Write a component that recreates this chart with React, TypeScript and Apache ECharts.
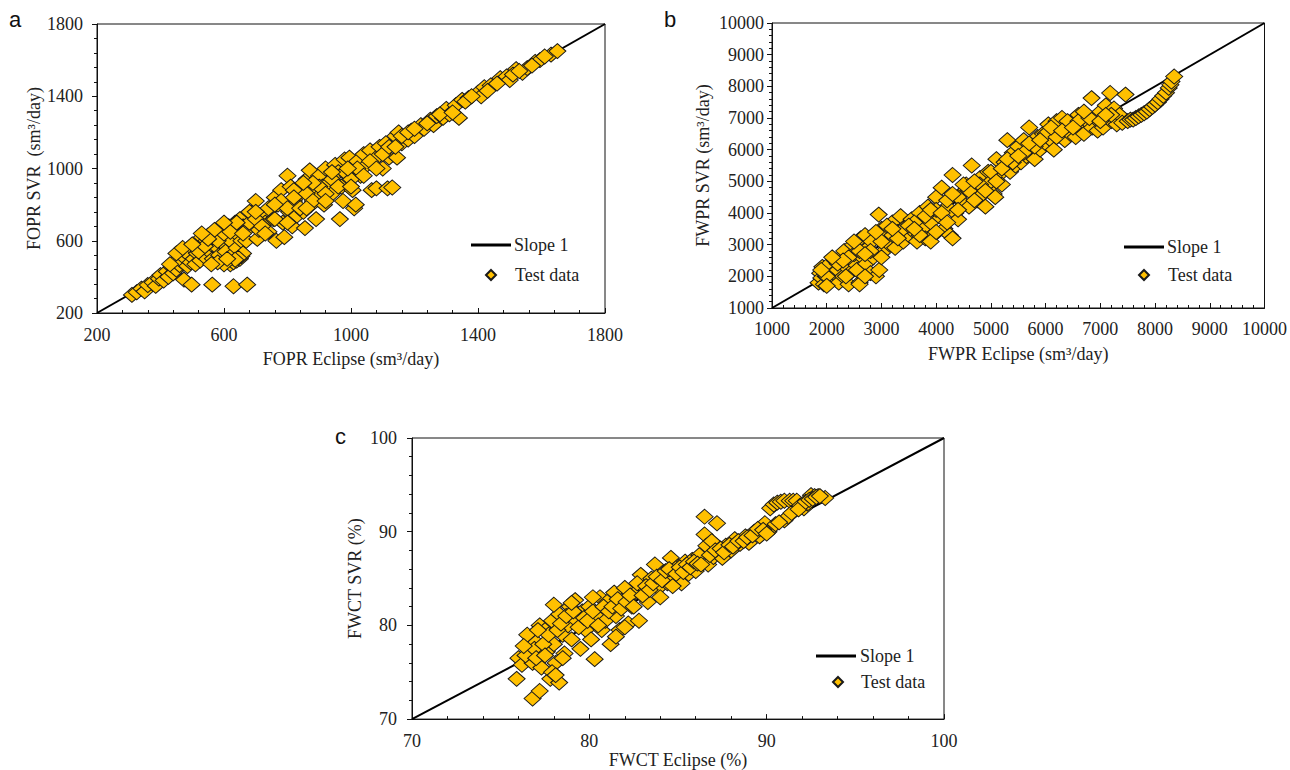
import React, { useEffect, useRef } from "react";
import * as echarts from "echarts";

// ---------- Panel a : FOPR ----------
const foprEclipse = [
  310, 325, 340, 350, 360, 375, 385, 395, 400, 410, 420, 425, 435, 440, 445, 450, 455, 460, 465, 470,
  475, 480, 485, 490, 495, 500, 505, 510, 515, 520, 525, 530, 535, 540, 545, 550, 555, 560, 565, 570,
  575, 580, 585, 590, 595, 600, 605, 610, 615, 620, 625, 630, 635, 640, 645, 650, 655, 660, 665, 670,
  474, 498, 563, 630, 673,
  620, 630, 640, 650, 655, 660, 645, 635, 600, 580, 560, 610,
  680, 690, 700, 705, 710, 720, 730, 740, 750, 755, 760, 765, 770, 780, 785, 790, 800, 805, 810, 815,
  820, 830, 840, 845, 850, 855, 860, 870, 875, 880, 890, 895, 900, 910, 915, 920, 930, 940, 950, 960,
  965, 970, 975, 980, 990, 995, 1000, 1005, 1010, 1015, 1020, 1030, 1040, 1050, 1060, 1065, 1080, 1080,
  1090, 1100, 1110, 1115, 1130, 1120, 1140, 1145, 1150, 1160, 1180, 1190, 1200, 1220, 1230, 1250, 1260,
  1270, 1290, 1300, 1310, 1330, 1340, 1350, 1370, 1400, 1410, 1420, 1440, 1470, 1490, 1500, 1520, 1540,
  1555, 1580, 1595, 1630, 1650,
  520, 540, 560, 580, 600, 620, 640, 660, 680, 700, 720, 740, 760, 780, 800, 820, 840, 860, 880, 900,
  920, 940, 960, 980, 1000, 1020, 1040, 1060, 1080, 1100, 1120, 1140, 1160, 1180, 1200, 1240, 1280, 1320,
  1360, 1380, 1430, 1460, 1510, 1530, 1570, 1610, 700, 760, 820, 880, 940, 990, 730, 800, 860, 920,
  1000, 850, 600, 570, 550, 450, 470, 430, 500, 530,
];
const foprSvr = [
  300, 315, 335, 320, 355, 370, 350, 390, 410, 380, 430, 400, 455, 420, 480, 440, 500, 465, 520, 480,
  540, 500, 460, 520, 480, 560, 500, 470, 530, 590, 490, 620, 560, 510, 600, 630, 540, 580, 500, 610,
  640, 560, 520, 600, 650, 580, 540, 620, 680, 600, 520, 660, 700, 560, 630, 720, 600, 680, 650, 600,
  385, 357, 357, 348, 357,
  470, 480, 490, 500, 515, 530, 505, 495, 470, 480, 470, 500,
  700, 760, 820, 610, 660, 740, 700, 650, 780, 720, 840, 600, 800, 880, 700, 620, 960, 760, 900, 680,
  820, 740, 860, 900, 760, 670, 940, 990, 800, 880, 720, 840, 960, 900, 800, 1000, 920, 860, 1020, 980,
  720, 900, 820, 1050, 960, 1060, 1000, 880, 780, 800, 1040, 960, 1080, 1020, 1100, 880, 1060, 890,
  1120, 1000, 1140, 890, 895, 1060, 1180, 1060, 1200, 1140, 1160, 1210, 1180, 1240, 1220, 1270, 1240,
  1290, 1280, 1330, 1300, 1350, 1280, 1380, 1390, 1420, 1400, 1450, 1460, 1500, 1510, 1490, 1550, 1530,
  1556, 1590, 1600, 1630, 1650,
  540, 570, 620, 600, 640, 650, 700, 640, 760, 720, 680, 780, 720, 820, 780, 880, 780, 860, 820, 900,
  860, 940, 900, 980, 940, 1000, 960, 1040, 1000, 1080, 1120, 1120, 1180, 1200, 1220, 1250, 1300, 1310,
  1370, 1400, 1430, 1470, 1520, 1540, 1570, 1620, 760, 800, 840, 920, 980, 1000, 640, 700, 780, 820,
  900, 920, 700, 660, 610, 530, 560, 470, 580, 640,
];

// ---------- Panel b : FWPR ----------
const fwprEclipse = [
  1850, 1880, 1900, 1920, 1950, 1980, 2000, 2050, 2100, 2120, 2150, 2200, 2220, 2250, 2300, 2320, 2350,
  2400, 2420, 2450, 2480, 2500, 2550, 2600, 2620, 2650, 2700, 2720, 2750, 2800, 2820, 2850, 2900, 2950,
  2960, 3000, 3050, 3100, 3150, 3200, 3250, 3300, 3350, 3400, 3450, 3500, 3550, 3600, 3650, 3700, 3750,
  3800, 3850, 3900, 3950, 4000, 4050, 4100, 4150, 4200, 4250, 4300, 4350, 4400, 4450, 4500, 4550, 4600,
  4650, 4700, 4750, 4800, 4850, 4900, 4950, 5000, 5050, 5100, 5150, 5200, 5250, 5300, 5350, 5400, 5450,
  5500, 5550, 5600, 5650, 5700, 5750, 5800, 5850, 5900, 5950, 6000, 6050, 6100, 6150, 6200, 6250, 6300,
  6350, 6400, 6450, 6500, 6550, 6600, 6650, 6700, 6750, 6840, 6850, 6900, 6950, 7000, 7050, 7100, 7180,
  7200, 7250, 7300, 7350, 7400, 7460, 7500, 7550, 7600, 7650, 7700, 7750, 7800, 7850, 7900, 7950, 8000,
  8050, 8100, 8150, 8200, 8250, 8280, 8300, 8350, 5080, 4300, 3900, 2600,
  2000, 2200, 2400, 2600, 2800, 3000, 3200, 3400, 3600, 3800, 4000, 4200, 4400, 4600, 4800, 5000, 5200,
  5400, 5600, 5800, 6000, 6200, 6400, 6600, 6800, 7000, 7200, 2300, 2700, 3100, 3300, 3500, 3700, 3900,
  4100, 4300, 4500, 4700, 4900, 5100, 5300, 5500, 5700, 5900, 6100, 6300, 6500, 6700, 7100, 2100, 2500,
  3000, 3200, 3600, 4000, 4200, 4400, 4700, 2900, 2700, 1900, 2000, 2350,
];
const fwprSvr = [
  1800, 2100, 1950, 2300, 1750, 2000, 2200, 2400, 1900, 2100, 2500, 2200, 1800, 2600, 2000, 2800, 2300,
  1750, 2100, 2500, 3000, 2700, 2200, 1800, 3200, 2600, 3300, 2400, 2900, 2100, 3100, 2600, 2000, 3950,
  2200, 3500, 2800, 3300, 3000, 3700, 2900, 3400, 3900, 3100, 3600, 3300, 3800, 3400, 3100, 4000, 3500,
  3200, 4200, 3700, 3300, 4500, 3900, 4800, 3500, 4200, 3300, 5200, 4000, 3800, 4600, 4300, 4900, 4200,
  5500, 4700, 4400, 5100, 4600, 4200, 5300, 5000, 4600, 5700, 5200, 4900, 5600, 6300, 5300, 5900, 5500,
  6100, 5600, 6300, 5800, 6700, 6100, 5700, 6400, 6000, 6500, 6200, 6800, 6300, 6000, 6900, 6500, 7000,
  6300, 6700, 6500, 6900, 6400, 7100, 6700, 6500, 6900, 7630, 6700, 7000, 6600, 7200, 6700, 7400, 7790,
  6900, 7300, 6800, 7100, 6850, 7740, 6900, 6950, 6950, 7000, 7050, 7100, 7150, 7200, 7280, 7350, 7420,
  7500, 7600, 7700, 7800, 7950, 8050, 8150, 8310, 4500, 3200, 3100, 1750,
  2000, 2400, 2600, 2800, 2800, 3100, 3300, 3500, 3700, 3900, 4100, 4400, 4500, 4700, 4900, 5300, 5400,
  5600, 5900, 6100, 6500, 6400, 6900, 6900, 7000, 6900, 7100, 2500, 2700, 3600, 3200, 3600, 3300, 4100,
  4000, 4600, 4900, 5000, 4700, 5000, 5700, 5800, 6200, 6300, 6700, 6600, 6700, 7200, 7100, 2600, 3100,
  2600, 3500, 3500, 3400, 3700, 4100, 4400, 3400, 2000, 2200, 1700, 2000,
];

// ---------- Panel c : FWCT ----------
const fwctEclipse = [
  75.9, 76.8, 77.2, 76.0, 76.2, 76.5, 76.6, 76.8, 77.0, 77.2, 77.3, 77.5, 77.6, 77.8, 77.9, 78.0, 78.1,
  78.3, 78.3, 78.5, 78.6, 78.8, 78.9, 79.0, 79.2, 79.3, 79.5, 79.6, 79.8, 80.0, 80.1, 80.3, 80.4, 80.6,
  80.7, 80.9, 81.0, 81.2, 81.4, 81.5, 81.7, 81.9, 82.0, 82.2, 82.4, 82.6, 82.8, 82.9, 83.1, 83.3, 83.5,
  83.7, 83.9, 84.0, 84.2, 84.4, 84.6, 84.8, 85.0, 85.2, 85.4, 85.6, 85.8, 86.0, 86.2, 86.5, 86.5, 86.6,
  86.7, 86.9, 87.2, 87.0, 87.3, 87.5, 87.7, 88.0, 88.2, 88.5, 88.8, 89.0, 89.3, 89.6, 89.9, 90.1, 90.2,
  90.4, 90.6, 90.8, 91.0, 91.0, 91.2, 91.3, 91.5, 91.7, 91.9, 92.1, 92.3, 92.5, 92.7, 92.9, 93.3,
  76.4, 76.9, 77.4, 77.7, 78.2, 78.4, 78.7, 79.1, 79.4, 79.7, 79.9, 80.2, 80.5, 80.8, 81.1, 81.3, 81.6,
  81.8, 82.1, 82.3, 82.5, 82.7, 83.0, 83.2, 83.4, 83.6, 83.8, 84.1, 84.3, 84.5, 84.7, 84.9, 85.1, 85.3,
  85.5, 85.7, 85.9, 86.1, 86.3, 86.8, 87.1, 87.4, 87.6, 87.9, 88.1, 88.4, 88.7, 88.9, 89.2, 89.5, 89.8,
  90.0, 90.5, 90.7, 91.4, 91.8, 92.2, 92.4, 92.6, 92.8, 93.0, 78.0, 79.0, 80.2, 77.0, 77.9, 78.1, 81.5,
  82.0, 76.3, 77.1, 77.5, 78.5,
];
const fwctSvr = [
  74.3, 72.2, 73.0, 76.5, 75.8, 79.0, 77.0, 76.0, 78.2, 80.0, 75.5, 79.5, 77.2, 74.3, 80.5, 78.0, 76.0,
  73.9, 81.2, 79.0, 77.0, 80.0, 82.0, 78.5, 82.7, 80.5, 77.5, 81.5, 79.5, 82.0, 78.5, 76.4, 81.0, 83.0,
  79.5, 80.5, 82.5, 78.0, 83.5, 81.0, 79.5, 82.5, 84.0, 80.2, 82.0, 83.5, 80.5, 85.4, 84.0, 82.5, 85.0,
  86.5, 84.0, 83.0, 85.5, 84.5, 87.2, 85.0, 86.3, 84.5, 86.8, 85.5, 87.0, 85.8, 87.5, 91.6, 89.7, 88.5,
  86.5, 89.0, 90.9, 87.3, 88.0, 87.2, 88.5, 88.0, 89.2, 88.7, 89.5, 88.8, 90.0, 89.5, 90.9, 90.0, 92.5,
  92.9, 93.1, 93.2, 91.2, 93.3, 91.6, 93.3, 93.3, 93.3, 92.8, 92.5, 93.0, 93.9, 93.8, 93.8, 93.6,
  76.8, 77.5, 78.0, 79.0, 79.5, 80.2, 81.0, 81.5, 79.8, 80.8, 80.5, 81.5, 80.0, 82.0, 81.5, 82.0, 82.8,
  81.8, 82.5, 83.2, 82.0, 84.5, 83.2, 84.2, 83.8, 84.5, 85.2, 84.8, 85.8, 86.0, 84.2, 85.5, 86.2, 85.7,
  86.5, 86.2, 86.8, 86.6, 86.5, 87.5, 88.0, 88.2, 87.8, 88.6, 88.4, 89.0, 89.0, 89.4, 89.6, 90.3, 90.2,
  89.8, 90.8, 91.0, 92.0, 92.4, 93.2, 93.4, 93.5, 93.7, 93.8, 82.2, 82.4, 83.0, 76.5, 75.0, 74.7, 78.8,
  79.8, 77.8, 79.5, 76.8, 76.5,
];

// tick values (panel a uses explicit tick lists)
const aMajorTicks = [200, 600, 1000, 1400, 1800];
const aMinorTicks = [280, 360, 440, 520, 680, 760, 840, 920, 1080, 1160, 1240, 1320, 1480, 1560, 1640, 1720];

const SERIF = "'Liberation Serif', 'Times New Roman', serif";
const TXT = "#222";

function zip(xs: number[], ys: number[]) {
  return xs.map((x, i) => [x, ys[i]]);
}

const plain = (v: number) => String(v);

function labelStyle(margin: number, custom?: number[]) {
  const s: any = { fontFamily: SERIF, fontSize: 18, color: TXT, margin, formatter: plain };
  if (custom) s.customValues = custom;
  return s;
}

function mainAxis(
  gridIndex: number,
  min: number,
  max: number,
  name: string,
  isX: boolean,
  nameGap: number,
  labelMargin: number,
  extra: any
) {
  return {
    type: "value",
    gridIndex,
    min,
    max,
    position: isX ? "bottom" : "left",
    name,
    nameLocation: "middle",
    nameGap,
    nameTextStyle: { fontFamily: SERIF, fontSize: 18, color: TXT },
    axisLine: { show: true, onZero: false, lineStyle: { color: "#111", width: 1 } },
    axisTick: { show: true, inside: isX, length: 5, lineStyle: { color: "#111" } },
    axisLabel: labelStyle(labelMargin),
    splitLine: { show: false },
    ...extra,
  };
}

function legends(lineLeft: number, lineTop: number, diaLeft: number, diaTop: number, textLeft: number) {
  return [
    {
      data: [{ name: "Slope 1", icon: "rect", itemStyle: { color: "#000" } }],
      left: lineLeft,
      top: lineTop,
      itemWidth: 40,
      itemHeight: 3,
      padding: 0,
      selectedMode: false,
      textStyle: { fontFamily: SERIF, fontSize: 18, color: TXT, padding: [0, 0, 0, textLeft - (lineLeft + 45)] },
    },
    {
      data: [{ name: "Test data", icon: "diamond" }],
      left: diaLeft,
      top: diaTop,
      itemWidth: 10,
      itemHeight: 10,
      padding: 0,
      selectedMode: false,
      textStyle: { fontFamily: SERIF, fontSize: 18, color: TXT, padding: [0, 0, 0, textLeft - (diaLeft + 15)] },
    },
  ];
}

function panelSeries(xIdx: number, yIdx: number, lo: number, hi: number, xs: number[], ys: number[]) {
  return [
    {
      name: "Slope 1",
      type: "line",
      xAxisIndex: xIdx,
      yAxisIndex: yIdx,
      data: [
        [lo, lo],
        [hi, hi],
      ],
      symbol: "none",
      silent: true,
      lineStyle: { color: "#000", width: 2 },
      itemStyle: { color: "#000" },
      z: 2,
    },
    {
      name: "Test data",
      type: "scatter",
      xAxisIndex: xIdx,
      yAxisIndex: yIdx,
      data: zip(xs, ys),
      symbol: "diamond",
      symbolSize: [17, 15],
      itemStyle: { color: "#FFC000", borderColor: "#1a1a1a", borderWidth: 1, opacity: 1 },
      z: 3,
    },
  ];
}

export default function App() {
  const ref = useRef<HTMLDivElement>(null);
  useEffect(() => {
    if (!ref.current) return;
    const chart = echarts.init(ref.current, undefined, { renderer: "svg" });
    const gridBorder = { show: true, borderColor: "#111", borderWidth: 1, backgroundColor: "transparent" };
    const minorTick = { show: true, splitNumber: 5, length: 3, lineStyle: { color: "#111" } };
    const option: any = {
      animation: false,
      backgroundColor: "#fff",
      textStyle: { fontFamily: SERIF },
      grid: [
        { left: 97, top: 24, width: 508, height: 289, ...gridBorder },
        { left: 772, top: 23, width: 493, height: 285, ...gridBorder },
        { left: 412, top: 438, width: 532, height: 286, ...gridBorder },
      ],
      xAxis: [
        mainAxis(0, 200, 1800, "FOPR Eclipse (sm³/day)", true, 37, 13, {
          axisLabel: labelStyle(13, aMajorTicks),
          axisTick: { show: true, inside: true, length: 5, lineStyle: { color: "#111" }, customValues: aMajorTicks },
        }),
        {
          type: "value",
          gridIndex: 0,
          min: 200,
          max: 1800,
          position: "bottom",
          axisLine: { show: false, onZero: false },
          axisLabel: { show: false },
          splitLine: { show: false },
          axisTick: { show: true, inside: true, length: 3, lineStyle: { color: "#111" }, customValues: aMinorTicks },
        },
        mainAxis(1, 1000, 10000, "FWPR Eclipse (sm³/day)", true, 37, 12, { interval: 1000, minorTick }),
        mainAxis(2, 70, 100, "FWCT Eclipse (%)", true, 27, 13, { interval: 10, minorTick }),
      ],
      yAxis: [
        mainAxis(0, 200, 1800, "FOPR SVR  (sm³/day)", false, 54, 14, {
          axisLabel: labelStyle(14, aMajorTicks),
          axisTick: { show: true, inside: false, length: 5, lineStyle: { color: "#111" }, customValues: aMajorTicks },
        }),
        {
          type: "value",
          gridIndex: 0,
          min: 200,
          max: 1800,
          position: "left",
          axisLine: { show: false, onZero: false },
          axisLabel: { show: false },
          splitLine: { show: false },
          axisTick: { show: true, inside: false, length: 3, lineStyle: { color: "#111" }, customValues: aMinorTicks },
        },
        mainAxis(1, 1000, 10000, "FWPR SVR (sm³/day)", false, 60, 8, { interval: 1000, minorTick }),
        mainAxis(2, 70, 100, "FWCT SVR (%)", false, 48, 15, { interval: 10, minorTick }),
      ],
      legend: [
        ...legends(471, 236, 485, 266, 514),
        ...legends(1124, 238, 1138, 266, 1167),
        ...legends(816, 647, 832, 673, 860),
      ],
      series: [
        ...panelSeries(0, 0, 200, 1800, foprEclipse, foprSvr),
        ...panelSeries(2, 2, 1000, 10000, fwprEclipse, fwprSvr),
        ...panelSeries(3, 3, 70, 100, fwctEclipse, fwctSvr),
      ],
      graphic: [
        { type: "text", left: 9, top: 8, style: { text: "a", fontFamily: "Liberation Sans", fontSize: 22, fill: "#111" } },
        { type: "text", left: 664, top: 8, style: { text: "b", fontFamily: "Liberation Sans", fontSize: 22, fill: "#111" } },
        { type: "text", left: 335, top: 425, style: { text: "c", fontFamily: "Liberation Sans", fontSize: 22, fill: "#111" } },
      ],
    };
    chart.setOption(option);
    return () => chart.dispose();
  }, []);
  return (
    <div
      ref={ref}
      style={{ position: "fixed", left: 0, top: 0, width: 1290, height: 770, background: "#fff" }}
    />
  );
}
